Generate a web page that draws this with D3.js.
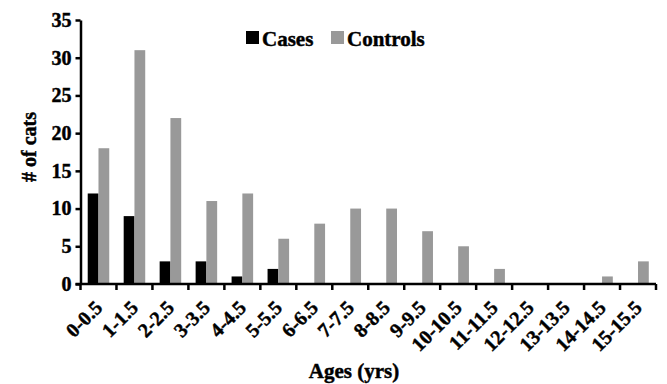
<!DOCTYPE html>
<html>
<head>
<meta charset="utf-8">
<script src="https://cdn.jsdelivr.net/npm/d3@7"></script>
<style>
  html, body { margin: 0; padding: 0; background: #fff; }
  text { font-family: 'Liberation Serif', 'Times New Roman', serif; font-weight: bold; stroke: #000; stroke-width: 0.45px; }
</style>
</head>
<body>
<div id="chart"></div>
<script>
// data
const ageGroups = ['0-0.5', '1-1.5', '2-2.5', '3-3.5', '4-4.5', '5-5.5', '6-6.5', '7-7.5',
  '8-8.5', '9-9.5', '10-10.5', '11-11.5', '12-12.5', '13-13.5', '14-14.5', '15-15.5'];
const cases = [12, 9, 3, 3, 1, 2, 0, 0, 0, 0, 0, 0, 0, 0, 0, 0];
const controls = [18, 31, 22, 11, 12, 6, 8, 10, 10, 7, 5, 2, 0, 0, 1, 3];
const seriesNames = ['Cases', 'Controls'];
const yTicks = [0, 5, 10, 15, 20, 25, 30, 35];

const width = 667;
const height = 384;
const marginLeft = 80.5;
const marginRight = 11;
const marginTop = 20;
const axisY = 284;

const colors = { Cases: '#000000', Controls: '#999999' };

const rows = ageGroups.map((g, i) => ({ group: g, Cases: cases[i], Controls: controls[i] }));

const x = d3.scaleBand(ageGroups, [marginLeft, width - marginRight]);
const xInner = d3.scaleBand(seriesNames, [0, x.bandwidth()]).paddingOuter(0.67).paddingInner(0);
const y = d3.scaleLinear([0, 35], [axisY, marginTop]);

const svg = d3.select('#chart')
  .append('svg')
  .attr('width', width)
  .attr('height', height)
  .attr('viewBox', [0, 0, width, height]);

// bars
svg.append('g')
  .selectAll('g')
  .data(rows)
  .join('g')
  .attr('transform', (d) => `translate(${x(d.group)},0)`)
  .selectAll('rect')
  .data((d) => seriesNames.map((s) => ({ key: s, value: d[s] })))
  .join('rect')
  .attr('x', (d) => xInner(d.key))
  .attr('width', xInner.bandwidth())
  .attr('y', (d) => y(d.value))
  .attr('height', (d) => y(0) - y(d.value))
  .attr('fill', (d) => colors[d.key]);

// y axis
const gy = svg.append('g')
  .attr('transform', `translate(${marginLeft},0)`)
  .call(d3.axisLeft(y).tickValues(yTicks).tickSizeInner(5).tickSizeOuter(0).tickPadding(4));
gy.select('.domain').attr('stroke-width', 2.5);
gy.selectAll('.tick line').attr('stroke-width', 2.5);
gy.selectAll('.tick text').attr('font-size', 20).attr('font-family', null).attr('fill', '#000');

// x axis: boundary ticks
const edges = ageGroups.map((g) => x(g)).concat([x.range()[1]]);
const gx = svg.append('g');
gx.append('line')
  .attr('x1', marginLeft - 5)
  .attr('x2', x.range()[1])
  .attr('y1', axisY)
  .attr('y2', axisY)
  .attr('stroke', '#000')
  .attr('stroke-width', 2.5);
gx.selectAll('.edge')
  .data(edges)
  .join('line')
  .attr('class', 'edge')
  .attr('x1', (d) => d)
  .attr('x2', (d) => d)
  .attr('y1', axisY)
  .attr('y2', axisY + 6)
  .attr('stroke', '#000')
  .attr('stroke-width', 2.5);

gx.selectAll('.xlab')
  .data(ageGroups)
  .join('text')
  .attr('class', 'xlab')
  .attr('transform', (d) => `translate(${x(d) + x.bandwidth() / 2 + 5},${axisY + 25}) rotate(-45)`)
  .attr('text-anchor', 'end')
  .attr('font-size', 20)
  .text((d) => d);

// axis titles
svg.append('text')
  .attr('x', 354)
  .attr('y', 378)
  .attr('text-anchor', 'middle')
  .attr('font-size', 21)
  .text('Ages (yrs)');

svg.append('text')
  .attr('transform', 'translate(36,147) rotate(-90)')
  .attr('text-anchor', 'middle')
  .attr('font-size', 20)
  .text('# of cats');

// legend
const legend = svg.append('g');
const legendX = [246, 331];
seriesNames.forEach((s, i) => {
  legend.append('rect')
    .attr('x', legendX[i])
    .attr('y', 31)
    .attr('width', 13)
    .attr('height', 13)
    .attr('fill', colors[s]);
  legend.append('text')
    .attr('x', legendX[i] + 16)
    .attr('y', 46)
    .attr('font-size', 21)
    .text(s);
});
</script>
</body>
</html>
